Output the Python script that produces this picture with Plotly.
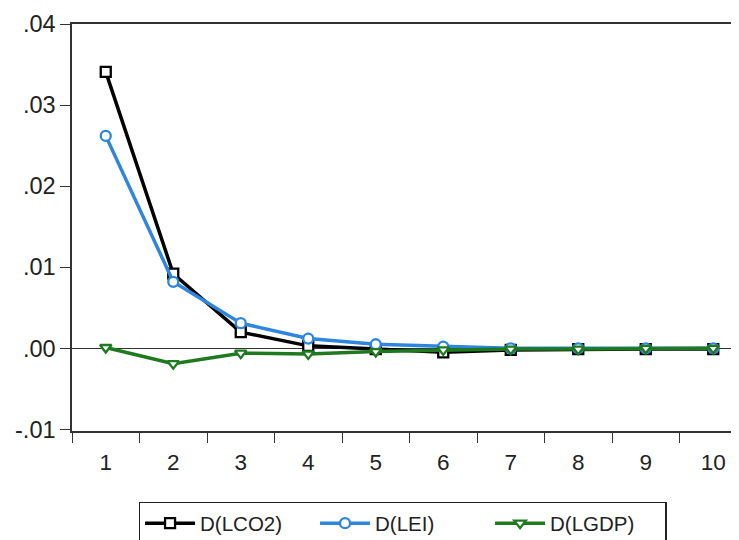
import plotly.graph_objects as go

periods = [1, 2, 3, 4, 5, 6, 7, 8, 9, 10]
d_lco2 = [0.0341, 0.0092, 0.0020, 0.0003, -0.0001, -0.0005, -0.0002, -0.0001, -0.0001, -0.0001]
d_lei = [0.0262, 0.0082, 0.0031, 0.0012, 0.0005, 0.0002, 0.0000, 0.0000, 0.0000, 0.0000]
d_lgdp = [0.0001, -0.0019, -0.0006, -0.0007, -0.0004, -0.0002, -0.0001, -0.0001, 0.0000, 0.0000]

y_tickvals = [-0.01, 0.0, 0.01, 0.02, 0.03, 0.04]
y_ticktext = ["-.01", ".00", ".01", ".02", ".03", ".04"]
x_boundaries = [0.5, 1.5, 2.5, 3.5, 4.5, 5.5, 6.5, 7.5, 8.5, 9.5]

series = [
    ("D(LCO2)", d_lco2, "#000000", "square"),
    ("D(LEI)", d_lei, "#2E86DE", "circle"),
    ("D(LGDP)", d_lgdp, "#1F7A1F", "triangle-down"),
]

fig = go.Figure()
for name, vals, color, sym in series:
    fig.add_trace(go.Scatter(
        x=periods, y=vals, name=name, mode="lines+markers",
        line=dict(color=color, width=3.5),
        marker=dict(symbol=sym, size=10, color="white",
                    line=dict(color=color, width=2.3)),
    ))

font_family = "Liberation Sans, Arial, sans-serif"
fig.update_layout(
    width=739, height=540,
    margin=dict(l=64, r=0, t=16, b=117, autoexpand=False),
    paper_bgcolor="white", plot_bgcolor="white",
    font=dict(family=font_family, size=21, color="#222"),
    showlegend=True,
    legend=dict(orientation="h", x=0.49, xanchor="center",
                yref="container", y=1 - 494 / 540, yanchor="top",
                bordercolor="#222", borderwidth=1.3, bgcolor="white",
                font=dict(size=20.5, family=font_family, color="#222"),
                itemwidth=50, entrywidth=110, tracegroupgap=0),
    xaxis=dict(
        range=[0.5, 10.5], tickmode="array", tickvals=periods,
        ticktext=[str(p) for p in periods],
        ticks="outside", ticklen=10, tickcolor="rgba(0,0,0,0)",
        showgrid=False, zeroline=False, automargin=False,
        showline=True, linecolor="#333", linewidth=1.5, mirror=True,
        tickfont=dict(size=22.5),
        minor=dict(tickmode="array", tickvals=x_boundaries, ticks="outside",
                   ticklen=10, tickcolor="#333", tickwidth=1.3, showgrid=False),
    ),
    yaxis=dict(
        range=[-0.0102, 0.04], tickmode="array", tickvals=y_tickvals, ticktext=y_ticktext,
        ticks="outside", ticklen=10, tickcolor="#333", tickwidth=1.3,
        showgrid=False, zeroline=True, zerolinecolor="#333", zerolinewidth=1.2,
        showline=True, linecolor="#333", linewidth=1.5, automargin=False,
        tickfont=dict(size=23.5),
    ),
)

fig.write_html("out.html")
